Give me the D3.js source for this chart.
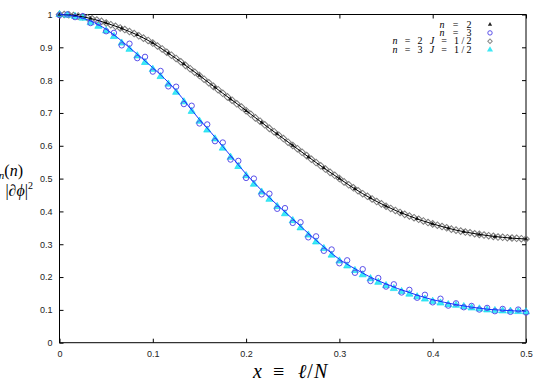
<!DOCTYPE html>
<html>
<head>
<meta charset="utf-8">
<script src="https://cdn.jsdelivr.net/npm/d3@7"></script>
<style>
  body { margin: 0; background: #fff; }
  svg { display: block; }
  .tick text { font-family: "Liberation Sans", Arial, sans-serif; font-size: 9px; fill: #222; }
  .math { font-family: "Liberation Serif", "DejaVu Serif", serif; }
</style>
</head>
<body>
<div class="svg-container"></div>
<script>
// theory curves, sampled every 0.0125 in x = l/N
const lineX = d3.range(41).map(i => i / 80)
const lineN2 = [1.000, 0.998, 0.993, 0.985, 0.974, 0.962, 0.948, 0.932, 0.913, 0.890,
  0.866, 0.840, 0.814, 0.787, 0.760, 0.734, 0.707, 0.680, 0.653, 0.627,
  0.601, 0.575, 0.549, 0.524, 0.500, 0.476, 0.454, 0.434, 0.416, 0.400,
  0.386, 0.373, 0.362, 0.352, 0.343, 0.336, 0.330, 0.325, 0.321, 0.318, 0.316]
const lineN3 = [1.000, 0.997, 0.989, 0.975, 0.955, 0.929, 0.899, 0.869, 0.838, 0.805,
  0.768, 0.724, 0.680, 0.640, 0.598, 0.556, 0.514, 0.476, 0.442, 0.409,
  0.377, 0.344, 0.312, 0.282, 0.254, 0.232, 0.212, 0.194, 0.179, 0.165,
  0.153, 0.141, 0.131, 0.123, 0.116, 0.110, 0.105, 0.101, 0.099, 0.097, 0.096]

// n = 2, l = 0..30 with N = 60
const n2 = [1.000, 0.997, 0.988, 0.974, 0.958, 0.938, 0.913, 0.882, 0.849, 0.814,
  0.778, 0.742, 0.707, 0.671, 0.636, 0.601, 0.566, 0.532, 0.500, 0.469,
  0.441, 0.416, 0.395, 0.378, 0.362, 0.349, 0.338, 0.330, 0.323, 0.319, 0.316]

// n = 3, l = 0..60 with N = 120
const n3 = [0.998, 1.000, 0.992, 0.995, 0.974, 0.975, 0.949, 0.944, 0.906, 0.911,
  0.867, 0.871, 0.826, 0.828, 0.781, 0.780, 0.727, 0.722, 0.668, 0.665,
  0.614, 0.610, 0.558, 0.554, 0.502, 0.500, 0.452, 0.454, 0.408, 0.410,
  0.365, 0.367, 0.321, 0.324, 0.280, 0.284, 0.242, 0.251, 0.213, 0.224,
  0.188, 0.197, 0.171, 0.178, 0.153, 0.161, 0.137, 0.146, 0.123, 0.134,
  0.113, 0.120, 0.108, 0.112, 0.101, 0.106, 0.096, 0.103, 0.094, 0.101, 0.092]

// n = 2 J = 1/2, l = 0..100 with N = 200
const n2J = [1.000, 1.000, 0.999, 0.997, 0.995, 0.993, 0.990, 0.987, 0.983, 0.979,
  0.974, 0.969, 0.964, 0.959, 0.954, 0.948, 0.942, 0.935, 0.928, 0.921,
  0.913, 0.904, 0.895, 0.885, 0.876, 0.866, 0.856, 0.845, 0.835, 0.824,
  0.814, 0.803, 0.792, 0.781, 0.771, 0.760, 0.749, 0.739, 0.728, 0.718,
  0.707, 0.696, 0.685, 0.675, 0.664, 0.653, 0.643, 0.632, 0.622, 0.611,
  0.601, 0.591, 0.580, 0.570, 0.559, 0.549, 0.539, 0.529, 0.519, 0.510,
  0.500, 0.490, 0.481, 0.472, 0.463, 0.454, 0.446, 0.438, 0.430, 0.423,
  0.416, 0.409, 0.403, 0.397, 0.391, 0.386, 0.381, 0.376, 0.371, 0.366,
  0.362, 0.358, 0.354, 0.350, 0.346, 0.343, 0.340, 0.337, 0.335, 0.332,
  0.330, 0.328, 0.326, 0.324, 0.322, 0.321, 0.320, 0.319, 0.318, 0.317, 0.316]

// n = 3 J = 1/2, l = 0..60 with N = 120
const n3J = [1.000, 0.998, 0.994, 0.989, 0.975, 0.964, 0.950, 0.933, 0.913, 0.894,
  0.874, 0.854, 0.833, 0.811, 0.788, 0.763, 0.734, 0.705, 0.675, 0.648,
  0.621, 0.593, 0.565, 0.537, 0.509, 0.483, 0.459, 0.437, 0.415, 0.393,
  0.372, 0.350, 0.328, 0.307, 0.287, 0.267, 0.249, 0.234, 0.220, 0.207,
  0.195, 0.184, 0.174, 0.165, 0.156, 0.148, 0.140, 0.133, 0.126, 0.121,
  0.116, 0.114, 0.110, 0.106, 0.103, 0.100, 0.098, 0.097, 0.096, 0.095, 0.094]

const xTicks = [0, 0.1, 0.2, 0.3, 0.4, 0.5]
const yTicks = [0, 0.1, 0.2, 0.3, 0.4, 0.5, 0.6, 0.7, 0.8, 0.9, 1]

const width = 545
const height = 382
const plotLeft = 59.5
const plotRight = 526
const plotTop = 14.5
const plotBottom = 342.7

const svg = d3.select('.svg-container')
  .append('svg')
  .attr('width', width)
  .attr('height', height)

const xScale = d3.scaleLinear([0, 0.5], [plotLeft, plotRight])
const yScale = d3.scaleLinear([0, 1], [plotBottom, plotTop])

const tickFmt = d => d === 0 ? '0' : d === 1 ? '1' : d3.format('.1f')(d)

// axes with inward ticks on all four sides
svg.append('g')
  .attr('transform', `translate(0, ${plotBottom})`)
  .call(d3.axisBottom(xScale).tickValues(xTicks).tickSize(-4).tickSizeOuter(0)
    .tickPadding(8).tickFormat(tickFmt))
svg.append('g')
  .attr('transform', `translate(0, ${plotTop})`)
  .call(d3.axisTop(xScale).tickValues(xTicks).tickSize(-4).tickSizeOuter(0).tickFormat(''))
svg.append('g')
  .attr('transform', `translate(${plotLeft}, 0)`)
  .call(d3.axisLeft(yScale).tickValues(yTicks).tickSize(-4).tickSizeOuter(0)
    .tickPadding(7).tickFormat(tickFmt))
svg.append('g')
  .attr('transform', `translate(${plotRight}, 0)`)
  .call(d3.axisRight(yScale).tickValues(yTicks).tickSize(-4).tickSizeOuter(0).tickFormat(''))

svg.selectAll('.domain').remove()
svg.selectAll('.tick line').attr('stroke', '#000')

svg.append('rect')
  .attr('x', plotLeft).attr('y', plotTop)
  .attr('width', plotRight - plotLeft).attr('height', plotBottom - plotTop)
  .attr('fill', 'none').attr('stroke', '#000').attr('stroke-width', 1)

const plot = svg.append('g')

const tri = d3.symbol(d3.symbolTriangle)
const square = d3.symbol(d3.symbolSquare)

// n = 2 J = 1/2 diamonds
plot.append('g').selectAll('path')
  .data(n2J)
  .join('path')
  .attr('d', square.size(22)())
  .attr('transform', (d, i) => `translate(${xScale(i / 200)}, ${yScale(d)}) rotate(45)`)
  .attr('fill', 'none')
  .attr('stroke', '#7c7c7c')
  .attr('stroke-width', 1)

// n = 3 J = 1/2 triangles
plot.append('g').selectAll('path')
  .data(n3J)
  .join('path')
  .attr('d', tri.size(22)())
  .attr('transform', (d, i) => `translate(${xScale(i / 120)}, ${yScale(d)})`)
  .attr('fill', '#3de8f5')
  .attr('stroke', '#00dcef')
  .attr('stroke-width', 0.6)

// n = 2 triangles
plot.append('g').selectAll('path')
  .data(n2)
  .join('path')
  .attr('d', tri.size(8)())
  .attr('transform', (d, i) => `translate(${xScale(i / 60)}, ${yScale(d)})`)
  .attr('fill', '#222')

// n = 3 circles
plot.append('g').selectAll('circle')
  .data(n3)
  .join('circle')
  .attr('cx', (d, i) => xScale(i / 120))
  .attr('cy', d => yScale(d))
  .attr('r', 2.7)
  .attr('fill', 'none')
  .attr('stroke', '#5a50ea')
  .attr('stroke-width', 1)

const line = values => d3.line()
  .x((d, i) => xScale(lineX[i]))
  .y(d => yScale(d))
  .curve(d3.curveMonotoneX)(values)

plot.append('path')
  .attr('d', line(lineN2))
  .attr('fill', 'none')
  .attr('stroke', '#000')
  .attr('stroke-width', 1)

plot.append('path')
  .attr('d', line(lineN3))
  .attr('fill', 'none')
  .attr('stroke', '#1530ff')
  .attr('stroke-width', 1)

// legend
const legend = svg.append('g').attr('class', 'math').attr('font-size', 10)
const rows = [
  { n: '2', J: false, w: 32 },
  { n: '3', J: false, w: 32 },
  { n: '2', J: true, w: 79 },
  { n: '3', J: true, w: 79 }
]
rows.forEach((r, i) => {
  const yy = 27.5 + i * 8.4
  const t = legend.append('text')
    .attr('x', 471.5 - r.w).attr('y', yy)
    .attr('textLength', r.w).attr('lengthAdjust', 'spacing')
  t.append('tspan').attr('font-style', 'italic').text('n')
  t.append('tspan').text(` = ${r.n}`)
  if (r.J) {
    t.append('tspan').attr('font-style', 'italic').text(' J')
    t.append('tspan').text(' = 1/2')
  }
})
const lx = 490
legend.append('path').attr('d', tri.size(8)())
  .attr('transform', `translate(${lx}, 24.5)`).attr('fill', '#222')
legend.append('circle').attr('cx', lx).attr('cy', 32.9).attr('r', 2.2)
  .attr('fill', 'none').attr('stroke', '#5a50ea')
legend.append('path').attr('d', square.size(10)())
  .attr('transform', `translate(${lx}, 41.3) rotate(45)`)
  .attr('fill', 'none').attr('stroke', '#8a8a8a')
legend.append('path').attr('d', tri.size(16)())
  .attr('transform', `translate(${lx}, 49.7)`).attr('fill', '#3de8f5')

// axis titles
const xl = svg.append('text').attr('class', 'math')
  .attr('y', 378).attr('font-size', 20)
xl.append('tspan').attr('x', 253).attr('font-style', 'italic').text('x')
xl.append('tspan').attr('x', 273).text('≡')
xl.append('tspan').attr('x', 298).attr('font-style', 'italic').text('ℓ')
xl.append('tspan').attr('dx', 1).text('/')
xl.append('tspan').attr('dx', 1).attr('font-style', 'italic').text('N')

const yl1 = svg.append('text').attr('class', 'math')
  .attr('x', 23).attr('y', 176).attr('text-anchor', 'end').attr('font-size', 16)
yl1.append('tspan').attr('font-style', 'italic').text('C')
yl1.append('tspan').attr('font-style', 'italic').attr('font-size', 11).attr('dy', 3).text('n')
yl1.append('tspan').attr('dy', -3).text('(')
yl1.append('tspan').attr('font-style', 'italic').text('n')
yl1.append('tspan').text(')')

const yl2 = svg.append('text').attr('class', 'math')
  .attr('x', 33).attr('y', 196).attr('text-anchor', 'end').attr('font-size', 16)
yl2.append('tspan').text('|∂')
yl2.append('tspan').attr('font-style', 'italic').text('ϕ')
yl2.append('tspan').text('|')
yl2.append('tspan').attr('font-size', 10).attr('dy', -7).text('2')
</script>
</body>
</html>
